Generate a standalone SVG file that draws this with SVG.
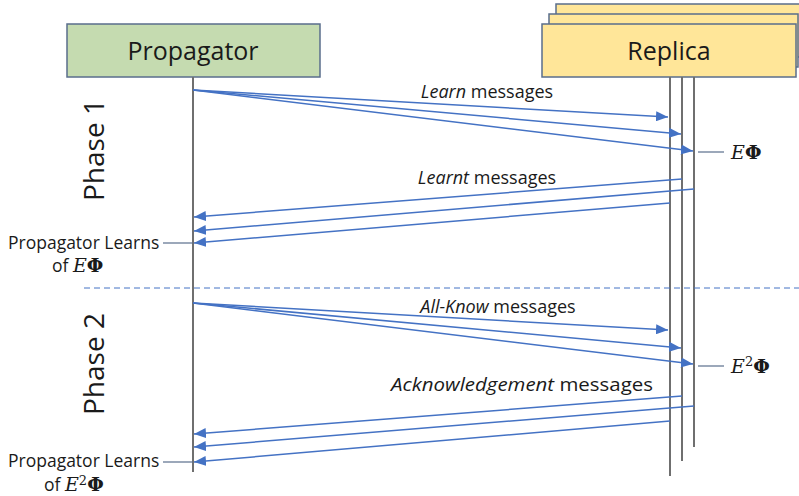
<svg xmlns="http://www.w3.org/2000/svg" width="799" height="496" viewBox="0 0 799 496">
  <style>
    .lbl { font-family: "Open Sans", "Liberation Sans", sans-serif; fill: #1a1a1a; }
    .head { font-size: 25px; text-anchor: middle; }
    .msg { font-size: 18px; text-anchor: middle; }
    .note { font-size: 17.5px; }
    .math { font-family: "DejaVu Serif", "Liberation Serif", serif; font-size: 19px; fill: #1a1a1a; }
    .sup { font-family: "DejaVu Serif", "Liberation Serif", serif; font-size: 13px; fill: #1a1a1a; }
    .life { stroke: #6f6f6f; stroke-width: 2; fill: none; }
    .msgline { stroke: #4472c4; stroke-width: 1.5; fill: none; marker-end: url(#tip); }
    .tick { stroke: #5a6e8c; stroke-width: 1.2; }
  </style>
  <defs>
    <marker id="tip" viewBox="0 0 12 10" refX="12" refY="5" markerWidth="12" markerHeight="10" markerUnits="userSpaceOnUse" orient="auto">
      <path d="M0,0 L12,5 L0,10 z" fill="#4472c4"/>
    </marker>
  </defs>

  <!-- participants -->
  <g id="propagator">
    <rect x="67" y="24" width="253" height="53" fill="#c5dbb0" stroke="#5a6e8c" stroke-width="1.5"/>
    <text class="lbl head" x="193" y="60">Propagator</text>
  </g>
  <g id="replica">
    <rect x="556" y="4" width="250" height="53" fill="#ffe699" stroke="#5a6e8c" stroke-width="1.5"/>
    <rect x="549" y="14" width="249" height="53" fill="#ffe699" stroke="#5a6e8c" stroke-width="1.5"/>
    <rect x="542" y="24" width="254" height="53" fill="#ffe699" stroke="#5a6e8c" stroke-width="1.5"/>
    <text class="lbl head" x="669" y="60">Replica</text>
  </g>

  <!-- lifelines -->
  <g id="lifelines">
    <line class="life" x1="193" y1="77" x2="193" y2="472"/>
    <line class="life" x1="670" y1="77" x2="670" y2="476"/>
    <line class="life" x1="682" y1="77" x2="682" y2="461"/>
    <line class="life" x1="694" y1="77" x2="694" y2="447"/>
  </g>

  <!-- phase labels and separator -->
  <g id="phases">
    <text class="lbl" font-size="28" text-anchor="middle" transform="translate(104,150) rotate(-90)">Phase 1</text>
    <text class="lbl" font-size="28" text-anchor="middle" transform="translate(104,364) rotate(-90)">Phase 2</text>
    <line x1="84" y1="288" x2="799" y2="288" stroke="#4472c4" stroke-width="1" stroke-dasharray="6,4"/>
  </g>

  <!-- message connectors -->
  <g id="connectors">
    <line class="msgline" x1="193" y1="90" x2="668" y2="117"/>
    <line class="msgline" x1="193" y1="90" x2="681" y2="134"/>
    <line class="msgline" x1="193" y1="90" x2="693" y2="151"/>

    <line class="msgline" x1="682" y1="179" x2="194" y2="217"/>
    <line class="msgline" x1="694" y1="189" x2="194" y2="231"/>
    <line class="msgline" x1="670" y1="203" x2="194" y2="243"/>

    <line class="msgline" x1="193" y1="303" x2="668" y2="330"/>
    <line class="msgline" x1="193" y1="303" x2="681" y2="348"/>
    <line class="msgline" x1="193" y1="303" x2="693" y2="364"/>

    <line class="msgline" x1="682" y1="396" x2="194" y2="434"/>
    <line class="msgline" x1="694" y1="406" x2="194" y2="447"/>
    <line class="msgline" x1="670" y1="421" x2="194" y2="462"/>

    <line class="tick" x1="698" y1="152" x2="724" y2="152"/>
    <line class="tick" x1="698" y1="366" x2="724" y2="366"/>
    <line class="tick" x1="163" y1="243" x2="193" y2="243"/>
    <line class="tick" x1="163" y1="462" x2="193" y2="462"/>
  </g>

  <!-- message labels -->
  <g id="labels">
    <text class="lbl msg" x="487" y="98"><tspan font-style="italic">Learn</tspan> messages</text>
    <text class="lbl msg" x="487" y="184"><tspan font-style="italic">Learnt</tspan> messages</text>
    <text class="lbl msg" x="498" y="313"><tspan font-style="italic">All-Know</tspan> messages</text>
    <text class="lbl msg" x="522" y="391" textLength="262" lengthAdjust="spacingAndGlyphs"><tspan font-style="italic">Acknowledgement</tspan> messages</text>

    <text class="math" x="731" y="159"><tspan font-style="italic">E</tspan><tspan font-weight="bold">Φ</tspan></text>
    <text class="math" x="731" y="373"><tspan font-style="italic">E</tspan><tspan class="sup" dy="-7">2</tspan><tspan font-weight="bold" dy="7">Φ</tspan></text>

    <text class="lbl note" x="8" y="249">Propagator Learns</text>
    <text class="lbl note" x="52" y="272">of <tspan class="math" font-style="italic">E</tspan><tspan class="math" font-weight="bold">Φ</tspan></text>

    <text class="lbl note" x="8" y="467">Propagator Learns</text>
    <text class="lbl note" x="44" y="491">of <tspan class="math" font-style="italic">E</tspan><tspan class="sup" dy="-6">2</tspan><tspan class="math" font-weight="bold" dy="6">Φ</tspan></text>
  </g>
</svg>
